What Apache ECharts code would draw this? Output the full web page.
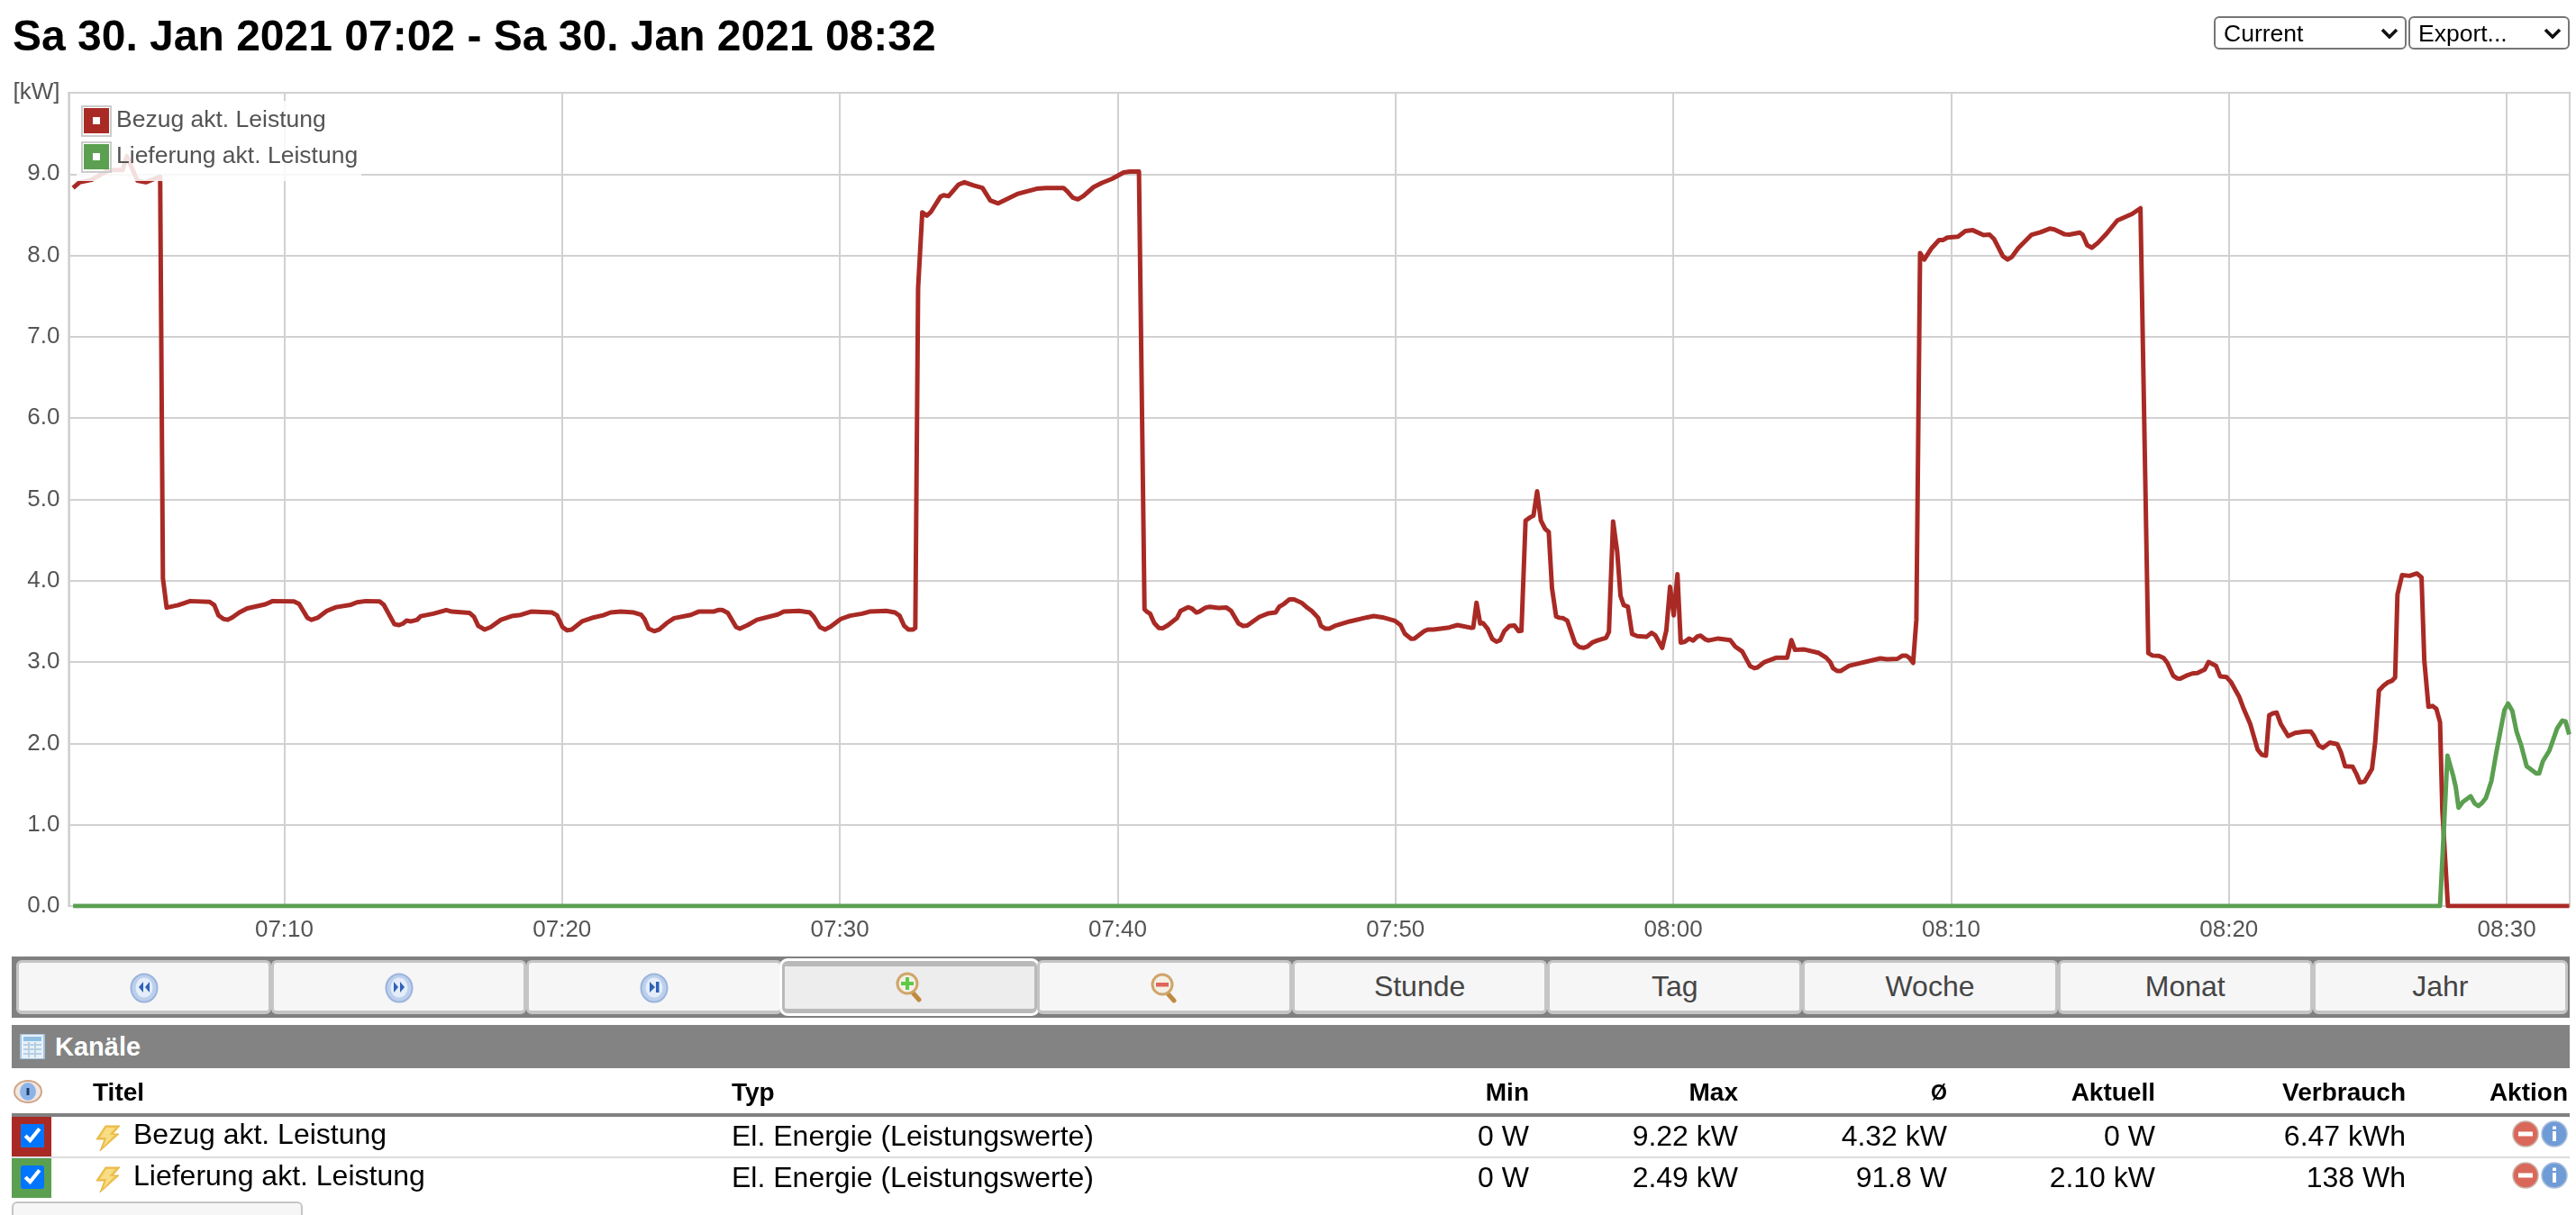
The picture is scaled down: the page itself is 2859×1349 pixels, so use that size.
<!DOCTYPE html>
<html lang="de">
<head>
<meta charset="utf-8">
<title>Kanäle</title>
<script src="https://cdn.jsdelivr.net/npm/echarts@6/dist/echarts.min.js"></script>
<style>
html,body{margin:0;padding:0;background:#fff;width:2859px;height:1349px;overflow:hidden;font-family:"Liberation Sans",Arial,sans-serif}
#chart{position:absolute;left:0;top:0;width:2859px;height:1349px}
.a{position:absolute;white-space:nowrap}
h1{position:absolute;margin:0;left:14px;top:14px;font-size:48px;line-height:52px;font-weight:bold;color:#000;white-space:nowrap}
select{position:absolute;top:18px;height:37px;font:26.5px "Liberation Sans",Arial,sans-serif;border:2px solid #767676;border-radius:6px;color:#000;padding:0 0 0 9px;box-sizing:border-box;appearance:none;-webkit-appearance:none;
background:#fff url("data:image/svg+xml,%3Csvg xmlns='http://www.w3.org/2000/svg' width='20' height='12' viewBox='0 0 20 12'%3E%3Cpath d='M2 2l8 8 8-8' fill='none' stroke='%23111' stroke-width='3.6'/%3E%3C/svg%3E") no-repeat right 7px center}
.bar{left:13px;top:1062px;width:2839px;height:68px;background:#808080}
.btn{top:1066px;height:60px;box-sizing:border-box;background:#f6f6f6;border:solid #c5c5c5;border-width:3px 3px 4px 3px;border-radius:6px;text-align:center;font-size:32px;line-height:52px;color:#454545}
.btn.on{background:#ededed;border:solid #b9b9b9;border-width:6px 3px 5px 3px;box-shadow:0 0 0 3px #fff;line-height:46px;top:1067px;height:58px}
.btn svg{position:absolute;left:50%;top:11px;margin-left:-16px}
.btn.on svg{top:6px}
.head{left:13px;top:1138px;width:2839px;height:48px;background:#838383}
.kan{left:61px;top:1138px;height:48px;line-height:48px;color:#fff;font-weight:bold;font-size:29px}
.th{top:1195px;line-height:36px;font-size:28px;font-weight:bold;color:#000}
.td{line-height:40px;font-size:32px;color:#000}
.r{text-align:right}
input[type=checkbox]{position:absolute;margin:0;width:26px;height:26px}
</style>
</head>
<body>
<div id="chart"></div>
<h1>Sa 30. Jan 2021 07:02 - Sa 30. Jan 2021 08:32</h1>
<select style="left:2457px;width:214px"><option>Current</option></select>
<select style="left:2673px;width:179px"><option>Export...</option></select>
<div id="ui"></div>
<script>
// Time in minutes after 07:00, power in kW, both.
const bezugKw = [
[2.40,8.83],[2.64,8.90],[3.06,8.93],[3.68,9.05],[4.19,9.05],[4.34,9.22],[4.71,8.92],[5.02,8.90],[5.54,8.97],[5.64,4.03],
[5.76,3.67],[6.18,3.70],[6.62,3.75],[7.32,3.74],[7.48,3.70],[7.64,3.575],[7.81,3.53],[7.97,3.52],[8.13,3.55],[8.38,3.61],
[8.67,3.66],[9.32,3.71],[9.59,3.75],[10.35,3.745],[10.54,3.715],[10.83,3.545],[10.99,3.52],[11.2,3.545],[11.54,3.63],[11.86,3.675],
[12.4,3.705],[12.62,3.735],[12.94,3.75],[13.43,3.745],[13.59,3.705],[13.97,3.465],[14.13,3.455],[14.29,3.475],[14.4,3.51],[14.56,3.50],
[14.78,3.52],[14.91,3.565],[15.37,3.595],[15.84,3.64],[16.03,3.62],[16.67,3.605],[16.83,3.555],[16.99,3.445],[17.21,3.40],[17.43,3.43],
[17.8,3.52],[18.18,3.565],[18.51,3.58],[18.89,3.62],[19.64,3.61],[19.81,3.575],[20.02,3.43],[20.18,3.39],[20.35,3.40],[20.72,3.50],
[21.15,3.55],[21.48,3.575],[21.75,3.61],[22.12,3.62],[22.58,3.61],[22.85,3.58],[22.96,3.53],[23.12,3.41],[23.32,3.38],[23.5,3.40],
[23.77,3.48],[24.04,3.54],[24.64,3.58],[24.91,3.62],[25.45,3.62],[25.61,3.64],[25.77,3.64],[25.96,3.605],[26.26,3.43],[26.4,3.41],
[26.69,3.455],[27.02,3.52],[27.77,3.585],[27.99,3.62],[28.53,3.63],[28.91,3.61],[29.07,3.555],[29.29,3.43],[29.47,3.40],[29.66,3.435],
[30.04,3.53],[30.37,3.57],[30.8,3.595],[31.07,3.62],[31.66,3.63],[31.99,3.61],[32.15,3.57],[32.31,3.445],[32.47,3.40],[32.64,3.40],
[32.71,3.42],[32.82,7.6],[32.97,8.53],[33.13,8.49],[33.26,8.53],[33.62,8.72],[33.73,8.74],[33.91,8.73],[34.27,8.87],[34.49,8.90],
[34.81,8.86],[35.14,8.83],[35.41,8.675],[35.7,8.64],[36.38,8.755],[37.08,8.82],[37.41,8.83],[38.05,8.83],[38.19,8.79],[38.38,8.71],
[38.56,8.69],[38.76,8.73],[39.14,8.84],[39.41,8.89],[39.78,8.94],[40.22,9.02],[40.43,9.03],[40.76,9.03],[40.96,3.65],[41.05,3.62],
[41.16,3.595],[41.32,3.48],[41.48,3.42],[41.62,3.415],[41.81,3.455],[42.13,3.54],[42.27,3.63],[42.54,3.675],[42.67,3.66],[42.83,3.61],
[42.94,3.62],[43.16,3.67],[43.32,3.68],[43.64,3.665],[43.91,3.67],[44.08,3.63],[44.35,3.475],[44.51,3.445],[44.67,3.45],[45.1,3.555],
[45.43,3.60],[45.68,3.61],[45.81,3.68],[45.99,3.715],[46.18,3.77],[46.35,3.77],[46.62,3.73],[46.78,3.68],[46.99,3.63],[47.21,3.545],
[47.32,3.445],[47.48,3.41],[47.61,3.41],[47.81,3.445],[48.35,3.50],[48.99,3.55],[49.21,3.565],[49.54,3.55],[49.97,3.51],[50.19,3.455],
[50.34,3.35],[50.57,3.285],[50.69,3.29],[51.04,3.38],[51.16,3.40],[51.37,3.40],[51.93,3.425],[52.24,3.455],[52.74,3.42],[52.8,3.425],
[52.91,3.73],[53.05,3.475],[53.15,3.48],[53.32,3.41],[53.48,3.285],[53.63,3.25],[53.76,3.27],[53.92,3.38],[54.1,3.445],[54.29,3.45],
[54.44,3.38],[54.54,3.385],[54.69,4.74],[54.85,4.78],[54.97,4.80],[55.1,5.10],[55.23,4.74],[55.38,4.64],[55.51,4.60],[55.64,3.91],
[55.78,3.56],[55.9,3.545],[56.03,3.54],[56.19,3.51],[56.46,3.23],[56.62,3.185],[56.77,3.175],[56.9,3.19],[57.08,3.24],[57.27,3.265],
[57.58,3.30],[57.68,3.37],[57.83,4.73],[57.98,4.35],[58.1,3.815],[58.22,3.70],[58.36,3.68],[58.51,3.345],[58.7,3.32],[59.03,3.31],
[59.22,3.36],[59.35,3.33],[59.6,3.175],[59.75,3.39],[59.88,3.925],[60.02,3.575],[60.15,4.08],[60.27,3.24],[60.41,3.25],[60.56,3.29],
[60.71,3.265],[60.87,3.315],[60.99,3.325],[61.15,3.28],[61.27,3.265],[61.61,3.29],[62.05,3.27],[62.23,3.19],[62.48,3.13],[62.76,2.95],
[62.92,2.925],[63.04,2.935],[63.29,3.00],[63.72,3.055],[64.1,3.055],[64.25,3.27],[64.38,3.15],[64.72,3.155],[65.21,3.115],[65.5,3.055],
[65.65,3.00],[65.75,2.925],[65.9,2.89],[66.02,2.89],[66.33,2.955],[67.45,3.045],[67.7,3.035],[68.07,3.04],[68.25,3.08],[68.38,3.08],
[68.5,3.05],[68.63,2.99],[68.75,3.52],[68.88,8.03],[69.03,7.95],[69.3,8.09],[69.57,8.19],[69.71,8.19],[69.87,8.22],[70.25,8.23],
[70.52,8.30],[70.79,8.31],[71.17,8.25],[71.38,8.255],[71.55,8.20],[71.87,7.99],[72.03,7.95],[72.19,7.98],[72.41,8.09],[72.9,8.255],
[73.22,8.285],[73.55,8.33],[73.71,8.32],[74.09,8.26],[74.25,8.255],[74.63,8.28],[74.74,8.255],[74.9,8.125],[75.06,8.095],[75.28,8.155],
[75.6,8.27],[75.98,8.43],[76.52,8.51],[76.81,8.58],[77.1,3.11],[77.25,3.08],[77.48,3.075],[77.65,3.05],[77.79,2.99],[78.0,2.83],
[78.14,2.80],[78.25,2.795],[78.52,2.84],[78.69,2.86],[78.87,2.865],[79.13,2.91],[79.27,3.00],[79.54,2.955],[79.68,2.825],[79.91,2.815],
[80.08,2.75],[80.37,2.575],[80.54,2.425],[80.77,2.24],[81.04,1.925],[81.18,1.86],[81.33,1.85],[81.45,2.345],[81.58,2.37],[81.72,2.38],
[81.87,2.24],[82.14,2.09],[82.39,2.13],[82.74,2.145],[82.95,2.145],[83.06,2.09],[83.23,1.975],[83.38,1.945],[83.64,2.01],[83.9,1.99],
[84.04,1.89],[84.19,1.72],[84.45,1.715],[84.59,1.63],[84.71,1.52],[84.88,1.53],[85.15,1.685],[85.26,2.02],[85.4,2.65],[85.57,2.71],
[85.72,2.75],[85.86,2.77],[85.98,2.81],[86.07,3.83],[86.23,4.07],[86.5,4.06],[86.76,4.09],[86.93,4.04],[87.04,3.02],[87.19,2.45],
[87.34,2.46],[87.46,2.425],[87.6,2.26],[87.69,1.17],[87.89,0],[92.25,0]
];
const lieferungKw = [
[2.40,0],[87.6,0],[87.71,0.80],[87.86,1.85],[88.06,1.61],[88.17,1.46],[88.27,1.21],[88.41,1.28],[88.7,1.35],[88.85,1.26],
[88.99,1.23],[89.12,1.27],[89.25,1.33],[89.45,1.54],[89.62,1.87],[89.91,2.41],[90.05,2.49],[90.2,2.40],[90.35,2.15],[90.51,1.98],
[90.72,1.72],[91.07,1.63],[91.16,1.63],[91.3,1.78],[91.53,1.91],[91.82,2.185],[92.0,2.28],[92.11,2.27],[92.25,2.11]
];
const seriesNames = ['Bezug akt. Leistung','Lieferung akt. Leistung'];
const seriesColors = ['#a92a25','#5b9f50'];
const rangeStart = 2.245, rangeEnd = 92.27;
const buttons = ['rew','fwd','end','in','out','Stunde','Tag','Woche','Monat','Jahr'];
const tableHead = ['Min','Max','Ø','Aktuell','Verbrauch','Aktion'];
const tableRights = [1697,1929,2161,2392,2670,2850];
const channelType = 'El. Energie (Leistungswerte)';
const tableRows = [
  ['0 W','9.22 kW','4.32 kW','0 W','6.47 kWh'],
  ['0 W','2.49 kW','91.8 W','2.10 kW','138 Wh']
];

const toDate = m => new Date(2021, 0, 30, 7, 0, Math.round(m * 60)).getTime();
const toSeries = list => list.map(p => [toDate(p[0]), p[1]]);

const chart = echarts.init(document.getElementById('chart'), null, {renderer:'canvas'});
const FONT = '"Liberation Sans",Arial,sans-serif';
chart.setOption({
  animation:false,
  backgroundColor:'transparent',
  grid:{left:76.5,right:7,top:103,bottom:343,show:true,borderColor:'#bdbdbd',borderWidth:2,containLabel:false},
  xAxis:{
    type:'time',min:toDate(rangeStart),max:toDate(rangeEnd),
    splitNumber:7,
    axisLine:{show:false},axisTick:{show:false},
    splitLine:{show:true,lineStyle:{color:'#d1d1d1',width:2}},
    axisLabel:{color:'#545454',fontSize:26,fontFamily:FONT,margin:14,hideOverlap:false,showMinLabel:false,showMaxLabel:false,
      formatter:v=>echarts.time.format(v,'{HH}:{mm}',false)}
  },
  yAxis:{
    type:'value',min:0,max:10,interval:1,
    name:'[kW]',nameLocation:'end',nameGap:0,
    nameTextStyle:{color:'#545454',fontSize:26,fontFamily:FONT,align:'right',verticalAlign:'middle',padding:[4,10,0,0]},
    axisLine:{show:false},axisTick:{show:false},
    splitLine:{show:true,lineStyle:{color:'#d1d1d1',width:2}},
    axisLabel:{color:'#545454',fontSize:26,fontFamily:FONT,margin:10,padding:[2,0,0,0],formatter:v=>v>=10?'':v.toFixed(1)}
  },
  legend:{
    orient:'vertical',left:85,top:112,selectedMode:false,
    data:seriesNames,
    icon:'path://M0 0H28V28H0Z M10 10V18H18V10Z',
    itemWidth:28,itemHeight:28,itemGap:12,
    padding:[8,4,13,8],
    backgroundColor:'rgba(255,255,255,0.85)',
    textStyle:{color:'#545454',fontSize:26.5,fontFamily:FONT,padding:[2,0,0,3]}
  },
  graphic:[117,157].map(y=>({type:'rect',z:100,silent:true,shape:{x:91,y:y+1,width:32,height:33},style:{fill:'none',stroke:'#cccccc',lineWidth:2}})),
  series:[
    {name:seriesNames[0],type:'line',data:toSeries(bezugKw),color:seriesColors[0],showSymbol:false,symbol:'none',silent:true,
     lineStyle:{width:5,color:seriesColors[0],join:'round',cap:'butt'},clip:true,sampling:false,emphasis:{disabled:true}},
    {name:seriesNames[1],type:'line',data:toSeries(lieferungKw),color:seriesColors[1],showSymbol:false,symbol:'none',silent:true,
     lineStyle:{width:5,color:seriesColors[1],join:'round',cap:'butt'},clip:true,sampling:false,emphasis:{disabled:true}}
  ]
});

/* ---------- page chrome around the chart ---------- */
const navIcon = k => {
  const g = k==='rew' ? '<path d="M15 10l-5 6 5 6zM22 10l-5 6 5 6z" fill="#2f62b8"/>' :
            k==='fwd' ? '<path d="M10 10l5 6-5 6zM17 10l5 6-5 6z" fill="#2f62b8"/>' :
                        '<path d="M11 10l6 6-6 6z" fill="#2f62b8"/><rect x="18" y="10" width="3.5" height="12" fill="#2f62b8"/>';
  return `<svg width="32" height="34" viewBox="0 0 32 34"><ellipse cx="16" cy="17" rx="14.5" ry="15.5" fill="#bcd0ee" stroke="#9cb4dc" stroke-width="2"/><ellipse cx="16" cy="16.5" rx="9.5" ry="11" fill="#e4edf9"/>${g}</svg>`;
};
const lensIcon = k => {
  const mark = k==='in' ? '<rect x="7" y="11" width="14" height="4" fill="#5fc94a"/><rect x="12" y="6" width="4" height="14" fill="#5fc94a"/>'
                        : '<rect x="7" y="11" width="14" height="4.5" fill="#e0645a"/>';
  return `<svg width="32" height="34" viewBox="0 0 32 34"><path d="M19 22l8 9" stroke="#c08a3e" stroke-width="5" stroke-linecap="round"/><circle cx="14" cy="13" r="11" fill="#f4f0e4" stroke="#cfa56b" stroke-width="3"/>${mark}</svg>`;
};
const bolt = '<svg width="32" height="30" viewBox="0 0 32 30"><path d="M14 1h16l-8 9h7L8 29l5-13H4z" fill="#efc24a" stroke="#e3b44a" stroke-width="1"/><path d="M15 3h10l-7 8h6L12 24l3-10H8z" fill="#f7dd84"/></svg>';
const actionIcons = '<svg width="62" height="30" viewBox="0 0 62 30"><circle cx="15" cy="15" r="14" fill="#d9685a" stroke="#c9b0a6" stroke-width="1.5"/><rect x="7" y="12.5" width="16" height="5" fill="#fff"/><circle cx="47" cy="15" r="14" fill="#6f9cd6" stroke="#a9bedb" stroke-width="1.5"/><rect x="45" y="12" width="4" height="11" fill="#fff"/><rect x="45" y="6.5" width="4" height="3.5" fill="#fff"/></svg>';
const calc = '<svg width="28" height="28" viewBox="0 0 28 28"><rect x="1" y="0" width="26" height="28" rx="2" fill="#e8f1f8" stroke="#a6c6e2" stroke-width="2"/><rect x="4" y="3" width="20" height="5" fill="#8fc0e4"/><path d="M4 12h20M4 17h20M4 22h20M10 9v17M17 9v17" stroke="#b5cfe4" stroke-width="2"/></svg>';
const eye = '<svg width="34" height="26" viewBox="0 0 34 26"><ellipse cx="17" cy="13" rx="15" ry="12" fill="#f2e7de" stroke="#cfa58a" stroke-width="2"/><ellipse cx="17" cy="13" rx="9" ry="10" fill="#8db4e8"/><rect x="15.5" y="9" width="3" height="8" fill="#1d3c66"/></svg>';

let html = '<div class="a bar"></div>';
const bw = 283.2;
buttons.forEach((b,i)=>{
  const left = 18 + i*bw;
  const content = i<3 ? navIcon(b) : i<5 ? lensIcon(b) : b;
  html += `<div class="a btn${b==='in'?' on':''}" style="left:${left}px;width:${bw}px">${content}</div>`;
});
html += '<div class="a head"></div><div class="a" style="left:22px;top:1148px">'+calc+'</div><div class="a kan">Kanäle</div>';
html += '<div class="a" style="left:14px;top:1199px">'+eye+'</div>';
html += '<div class="a th" style="left:103px">Titel</div><div class="a th" style="left:812px">Typ</div>';
tableHead.forEach((h,i)=>{ html += `<div class="a th r" style="right:${2859-tableRights[i]}px${h==='Ø'?';font-size:23px':''}">${h}</div>`; });
html += '<div class="a" style="left:13px;top:1236px;width:2839px;height:4px;background:#808080"></div>';
html += '<div class="a" style="left:13px;top:1284px;width:2839px;height:2px;background:#dddddd"></div>';
tableRows.forEach((row,r)=>{
  const top = r===0 ? 1240 : 1286;
  html += `<div class="a" style="left:13px;top:${top}px;width:44px;height:44px;background:${seriesColors[r]}"></div>`;
  html += `<input type="checkbox" checked style="left:23px;top:${top+8}px">`;
  html += `<div class="a" style="left:103px;top:${top+9}px">${bolt}</div>`;
  html += `<div class="a td" style="left:148px;top:${top-1}px">${seriesNames[r]}</div>`;
  html += `<div class="a td" style="left:812px;top:${top+1}px">${channelType}</div>`;
  row.forEach((c,i)=>{ html += `<div class="a td r" style="right:${2859-tableRights[i]}px;top:${top+1}px">${c}</div>`; });
  html += `<div class="a" style="left:2788px;top:${top+4}px">${actionIcons}</div>`;
});
html += '<div class="a" style="left:13px;top:1334px;width:323px;height:30px;box-sizing:border-box;background:#f6f6f6;border:2px solid #c5c5c5;border-radius:6px"></div>';
document.getElementById('ui').innerHTML = html;
</script>
</body>
</html>
